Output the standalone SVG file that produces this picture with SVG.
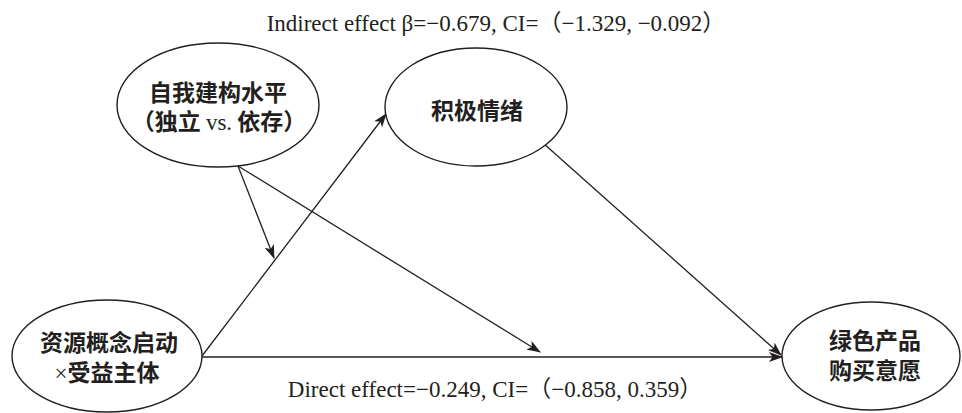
<svg xmlns="http://www.w3.org/2000/svg" width="962" height="413" viewBox="0 0 962 413">
  <style>
    .node ellipse { fill: #ffffff; stroke: #231f20; stroke-width: 1.4; }
    .cjk { font-family: "Noto Sans CJK SC", sans-serif; font-weight: 700; font-size: 23px; fill: #231f20; text-anchor: middle; }
    .latin { font-family: "Liberation Serif", serif; font-weight: 400; }
    .note { font-family: "Liberation Serif", "Noto Sans CJK SC", serif; font-size: 23px; fill: #231f20; text-anchor: middle; }
    .edge { stroke: #231f20; stroke-width: 1.3; fill: none; marker-end: url(#arrow); }
  </style>
  <defs>
    <marker id="arrow" viewBox="0 0 14 10" refX="13" refY="5" markerWidth="14" markerHeight="10" markerUnits="userSpaceOnUse" orient="auto">
      <path d="M0,0 L14,5 L0,10 L3.5,5 Z" fill="#231f20"/>
    </marker>
  </defs>
  <rect width="962" height="413" fill="#ffffff"/>

  <!-- connectors -->
  <g id="edges">
    <line class="edge" x1="202" y1="356" x2="386" y2="114"/>
    <line class="edge" x1="202" y1="357" x2="782" y2="357"/>
    <line class="edge" x1="543" y1="143" x2="781" y2="355"/>
    <line class="edge" x1="238" y1="166" x2="274" y2="258"/>
    <line class="edge" x1="238" y1="166" x2="540" y2="352"/>
  </g>

  <!-- nodes -->
  <g id="self-construal" class="node">
    <ellipse cx="218" cy="105" rx="101" ry="62"/>
    <text class="cjk"><tspan x="218" y="101">自我建构水平</tspan><tspan x="219" y="130">（独立 <tspan class="latin">vs.</tspan> 依存）</tspan></text>
  </g>
  <g id="positive-emotion" class="node">
    <ellipse cx="476" cy="107" rx="91" ry="59"/>
    <text class="cjk" x="477" y="119">积极情绪</text>
  </g>
  <g id="resource-priming" class="node">
    <ellipse cx="107" cy="356" rx="95" ry="56"/>
    <text class="cjk"><tspan x="109" y="351">资源概念启动</tspan><tspan x="107" y="381"><tspan class="latin">×</tspan>受益主体</tspan></text>
  </g>
  <g id="purchase-intention" class="node">
    <ellipse cx="871" cy="356" rx="89" ry="54"/>
    <text class="cjk"><tspan x="875" y="349">绿色产品</tspan><tspan x="875" y="379">购买意愿</tspan></text>
  </g>

  <!-- effect labels -->
  <text class="note" x="496" y="31">Indirect effect β=−0.679, CI=（−1.329, −0.092）</text>
  <text class="note" x="495" y="397">Direct effect=−0.249, CI=（−0.858, 0.359）</text>
</svg>
